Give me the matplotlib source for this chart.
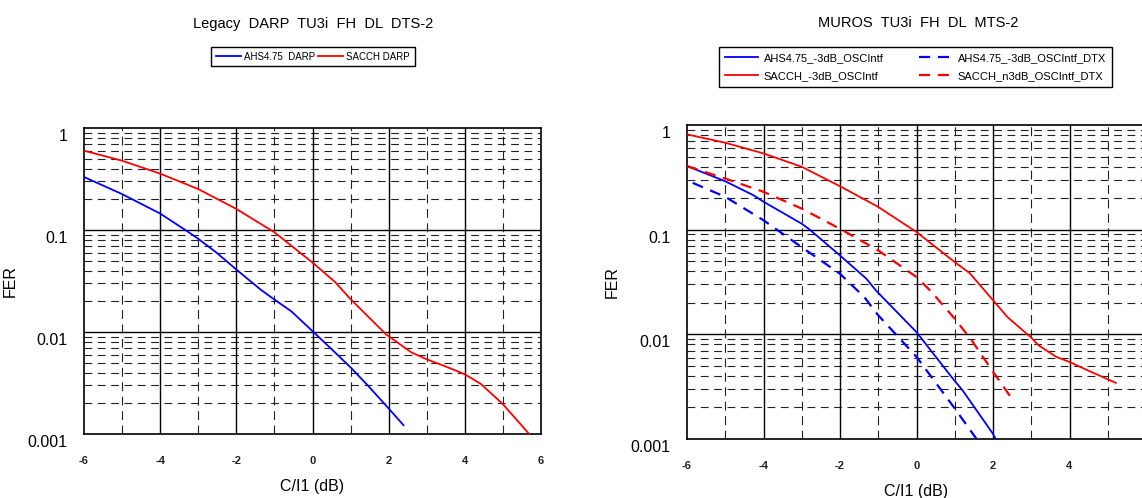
import matplotlib
matplotlib.use("Agg")
import matplotlib.pyplot as plt
from matplotlib.transforms import ScaledTranslation

plt.rcParams['font.family'] = ['Liberation Sans', 'DejaVu Sans']
plt.rcParams['axes.unicode_minus'] = False

# ---------------- data ----------------
xticks = [-6, -4, -2, 0, 2, 4, 6]
xticklabels = ['-6', '-4', '-2', '0', '2', '4', '6']
yticks = [0.001, 0.01, 0.1, 1]
yticklabels = ['0.001', '0.01', '0.1', '1']

left_title = "Legacy  DARP  TU3i  FH  DL  DTS-2"
right_title = "MUROS  TU3i  FH  DL  MTS-2"

ahs_darp_x = [-6, -5, -4, -3.34, -3, -2.52, -2, -1.36, -1, -0.56, 0, 0.5, 1, 1.45, 2, 2.39]
ahs_darp_y = [0.331, 0.225, 0.145, 0.10, 0.082, 0.060, 0.041, 0.026, 0.0208, 0.016,
              0.0102, 0.0068, 0.0045, 0.0030, 0.00178, 0.00122]

sacch_darp_x = [-6, -5, -4, -3, -2, -1, 0, 0.59, 1, 1.93, 2.6, 3, 3.46, 4, 4.42, 5, 5.69]
sacch_darp_y = [0.60, 0.478, 0.357, 0.252, 0.161, 0.095, 0.048, 0.031, 0.021, 0.0095,
                0.0063, 0.0054, 0.00465, 0.00385, 0.0031, 0.00196, 0.001]

ahs_muros_x = [-6, -5, -4.26, -4, -3, -2.79, -2, -1.31, -1.05, 0, 0.92, 1.21, 2.0, 2.07]
ahs_muros_y = [0.405, 0.29, 0.213, 0.185, 0.114, 0.1, 0.0567, 0.034, 0.026, 0.0105, 0.0039,
               0.0029, 0.00112, 0.001]

sacch_muros_x = [-6, -5, -4, -3, -2, -1, 0, 1, 1.39, 2, 2.38, 3, 3.19, 3.66, 4, 4.47, 5.21]
sacch_muros_y = [0.814, 0.677, 0.535, 0.399, 0.26, 0.165, 0.095, 0.049, 0.0385, 0.0212,
                 0.0146, 0.0093, 0.00786, 0.00608, 0.00545, 0.00454, 0.00344]

ahs_dtx_x = [-5.85, -5, -4, -3, -2, -1.36, -1, 0, 1, 1.57]
ahs_dtx_y = [0.28, 0.206, 0.123, 0.068, 0.0379, 0.0226, 0.0152, 0.0061, 0.00196, 0.001]

sacch_dtx_x = [-6, -5, -4, -3, -2, -1, 0, 0.4, 1, 1.44, 2, 2.47]
sacch_dtx_y = [0.405, 0.308, 0.23, 0.159, 0.102, 0.0634, 0.0353, 0.0253, 0.0141, 0.0088,
               0.0044, 0.0025]

# ---------------- figure ----------------
W, H = 1142, 498
fig = plt.figure(figsize=(W / 100, H / 100), dpi=100)


def px_axes(x0, x1, ytop, ybot):
    return fig.add_axes([x0 / W, 1 - ybot / H, (x1 - x0) / W, (ybot - ytop) / H])


def style_axes(ax, nticks, label_x):
    ax.set_yscale('log')
    ax.set_xlim(-6, 6)
    ax.set_ylim(0.001, 1)
    # grid
    for dec in [0.001, 0.01, 0.1]:
        for m in range(2, 10):
            ax.axhline(dec * m, color='#222222', lw=0.8, dashes=(7, 5), zorder=1)
    for v in [0.01, 0.1]:
        ax.axhline(v, color='black', lw=1.0, zorder=1)
    for xv in range(-5, 6, 2):
        ax.axvline(xv, color='#222222', lw=0.8, dashes=(8, 5), zorder=1)
    for xv in range(-4, 6, 2):
        ax.axvline(xv, color='black', lw=1.0, zorder=1)
    ax.set_xticks(xticks[:nticks])
    ax.set_xticklabels(xticklabels[:nticks], fontsize=8, fontweight='bold', color='#222222')
    ax.set_yticks(yticks)
    ax.set_yticklabels(yticklabels, fontsize=11.5)
    ax.yaxis.set_minor_locator(matplotlib.ticker.NullLocator())
    ax.tick_params(axis='both', length=0)
    ax.tick_params(axis='x', pad=16)
    ax.tick_params(axis='y', pad=12)
    off = ScaledTranslation(0, -0.07, fig.dpi_scale_trans)
    for lab in ax.get_yticklabels():
        lab.set_transform(lab.get_transform() + off)
    for sp in ax.spines.values():
        sp.set_linewidth(1.2)
        sp.set_color('black')
    ax.set_ylabel('FER', fontsize=11.5)
    ax.yaxis.set_label_coords(label_x, 0.5)
    ax.set_xlabel('C/I1 (dB)', fontsize=11.5, labelpad=9)


# ---- left ----
axL = px_axes(84, 541, 128, 434)
style_axes(axL, 7, (18 - 84) / 457)
l1, = axL.plot(ahs_darp_x, ahs_darp_y, color='#0000FF', lw=1.3, zorder=3)
l2, = axL.plot(sacch_darp_x, sacch_darp_y, color='#FF0000', lw=1.3, zorder=3)
fig.text(313 / W, 1 - 24 / H, left_title, ha='center', va='center', fontsize=10.5)
fig.legend([l1, l2], ['AHS4.75  DARP', 'SACCH DARP'], ncol=2, loc='center',
           bbox_to_anchor=(313 / W, 1 - 56.5 / H), fontsize=7, frameon=True,
           fancybox=False, edgecolor='black', framealpha=1, handlelength=2.6,
           handletextpad=0.3, columnspacing=0.3, borderpad=0.5, borderaxespad=0)

# ---- right ----
axR = px_axes(687, 1146, 125, 439)
style_axes(axR, 6, (620 - 687) / 459)
r1, = axR.plot(ahs_muros_x, ahs_muros_y, color='#0000FF', lw=1.3, zorder=3)
r2, = axR.plot(sacch_muros_x, sacch_muros_y, color='#FF0000', lw=1.3, zorder=3)
r3, = axR.plot(ahs_dtx_x, ahs_dtx_y, color='#0000FF', lw=1.6, dashes=(5, 3.5), zorder=3)
r4, = axR.plot(sacch_dtx_x, sacch_dtx_y, color='#FF0000', lw=1.6, dashes=(5, 3.5), zorder=3)
fig.text(918 / W, 1 - 23 / H, right_title, ha='center', va='center', fontsize=10.5)
fig.legend([r1, r2, r3, r4],
           ['AHS4.75_-3dB_OSCIntf', 'SACCH_-3dB_OSCIntf',
            'AHS4.75_-3dB_OSCIntf_DTX', 'SACCH_n3dB_OSCIntf_DTX'],
           ncol=2, loc='center', bbox_to_anchor=(915.5 / W, 1 - 67 / H), fontsize=8,
           frameon=True, fancybox=False, edgecolor='black', framealpha=1,
           handlelength=3.0, handletextpad=0.5, columnspacing=3.2, borderpad=0.55,
           labelspacing=0.75, borderaxespad=0)

fig.savefig('out.png', dpi=100)
